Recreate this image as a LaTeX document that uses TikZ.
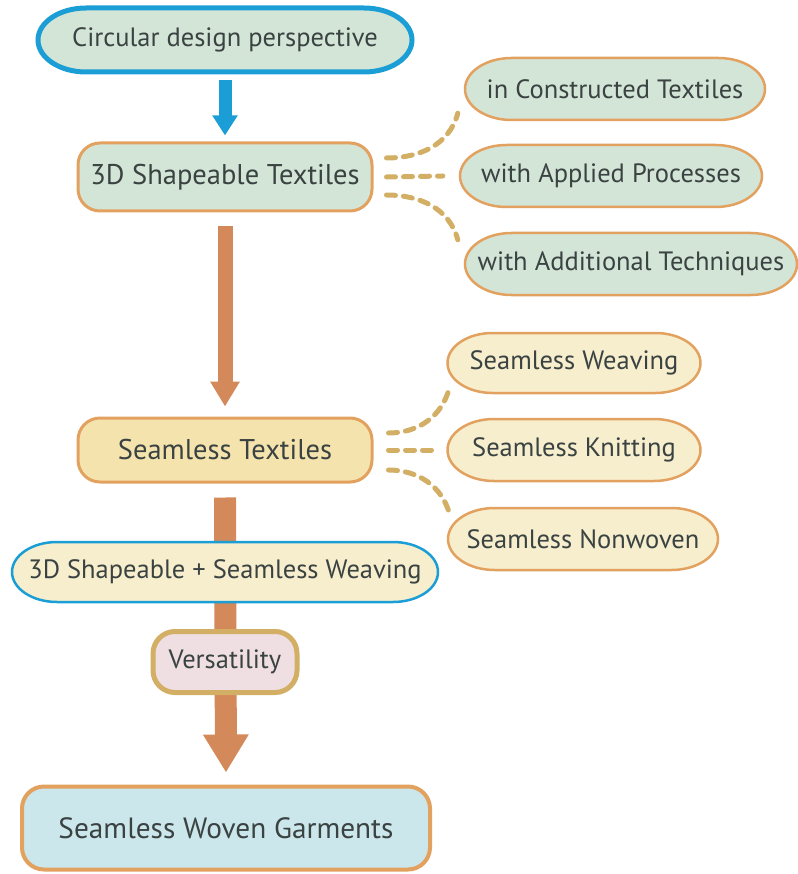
\documentclass[tikz,border=0pt]{standalone}
\usepackage{fontspec}
\setmainfont{PT Sans}
\usepackage{tikz}
\usetikzlibrary{arrows.meta}

\definecolor{bluebd}{HTML}{1B9ED6}
\definecolor{orangebd}{HTML}{E3A15F}
\definecolor{arroworange}{HTML}{D4895A}
\definecolor{dashgold}{HTML}{D3AF66}
\definecolor{greenfill}{HTML}{D3E5D7}
\definecolor{creamfill}{HTML}{F6EECD}
\definecolor{seamfill}{HTML}{F5E3AE}
\definecolor{pinkfill}{HTML}{EFDFE3}
\definecolor{bluefill}{HTML}{CCE7EB}
\definecolor{txtgrey}{HTML}{3A4242}

\newcommand{\capsule}[6]{%
  \draw[#1] (#3) ++({-#4/2+0.75*#5},{#5/2}) -- ++({#4-1.5*#5},0)
    arc[start angle=90,end angle=-90,x radius={0.75*#5},y radius={#5/2}]
    -- ++({-#4+1.5*#5},0)
    arc[start angle=270,end angle=90,x radius={0.75*#5},y radius={#5/2}] -- cycle;
  \node[minimum width=#4,minimum height=#5,inner sep=0pt] (#2) at (#3) {#6};}

\begin{document}
\begin{tikzpicture}[x=1pt, y=1pt, every node/.style={font=\fontsize{26.5}{30}\selectfont, text=txtgrey},
	box/.style={draw=orangebd, line width=3pt, rounded corners=22pt, inner sep=0pt, font=\fontsize{28.5}{32}\selectfont},
	greenoval/.style={draw=orangebd, fill=greenfill, line width=2.5pt},
	creamoval/.style={draw=orangebd, fill=creamfill, line width=2.5pt},
	link/.style={draw=dashgold, line width=5pt, line cap=round, dash pattern=on 9pt off 8pt}]
	\useasboundingbox (0,0) rectangle (797,-874);
	\capsule{draw=bluebd, fill=greenfill, line width=5pt}{circular}{225,-40}{374}{64}{Circular design perspective}
	\node[box, fill=greenfill, minimum width=294, minimum height=68] (shape3d) at (225,-177) {3D Shapeable Textiles};
	\draw[bluebd, line width=13pt, shorten <=8pt, shorten >=6pt, -{Triangle[length=20pt,width=24pt]}] (circular.south) -- (shape3d.north);
	\capsule{greenoval}{constructed}{615,-89}{300}{62}{in Constructed Textiles}
	\capsule{greenoval}{applied}{611,-176}{302}{62}{with Applied Processes}
	\capsule{greenoval}{additional}{631,-264}{332}{62}{with Additional Techniques}
	\draw[link] ([xshift=13pt,yshift=19pt]shape3d.east) to[out=0,in=-105] ([xshift=-7pt,yshift=7pt]constructed.south west);
	\draw[link] ([xshift=13pt]shape3d.east) -- ([xshift=-17pt]applied.west);
	\draw[link] ([xshift=13pt,yshift=-18pt]shape3d.east) to[out=0,in=105] ([xshift=-7pt,yshift=-7pt]additional.north west);
	\node[box, fill=seamfill, minimum width=294, minimum height=64] (seamless) at (225,-450) {Seamless Textiles};
	\draw[arroworange, line width=15pt, shorten <=14pt, shorten >=10pt, -{Triangle[length=25pt,width=28pt]}] (shape3d.south) -- (seamless.north);
	\capsule{creamoval}{weaving}{574,-363}{253}{60}{Seamless Weaving}
	\capsule{creamoval}{knitting}{574,-450}{253}{62}{Seamless Knitting}
	\capsule{creamoval}{nonwoven}{583,-539}{270}{62}{Seamless Nonwoven}
	\draw[link] ([xshift=15pt,yshift=17pt]seamless.east) to[out=0,in=-105] ([xshift=2pt,yshift=5pt]weaving.south west);
	\draw[link] ([xshift=15pt]seamless.east) -- ([xshift=-10pt]knitting.west);
	\draw[link] ([xshift=15pt,yshift=-20pt]seamless.east) to[out=0,in=105] ([xshift=2pt,yshift=-7pt]nonwoven.north west);
	\node[box, line width=4pt, fill=bluefill, minimum width=408, minimum height=83, font=\fontsize{29.3}{33}\selectfont] (garments) at (226,-828) {Seamless Woven Garments};
	\draw[arroworange, line width=22pt, shorten <=14pt, shorten >=12pt, -{Triangle[length=38pt,width=43pt]}] (seamless.south) -- (garments.north);
	\capsule{draw=bluebd, fill=creamfill, line width=2.5pt}{combined}{225,-572}{426}{60}{3D Shapeable + Seamless Weaving}
	\node[box, draw=dashgold, line width=5pt, fill=pinkfill, minimum width=144, minimum height=61, font=\fontsize{26.5}{30}\selectfont] (versatility) at (225,-662) {Versatility};
\end{tikzpicture}
\end{document}
